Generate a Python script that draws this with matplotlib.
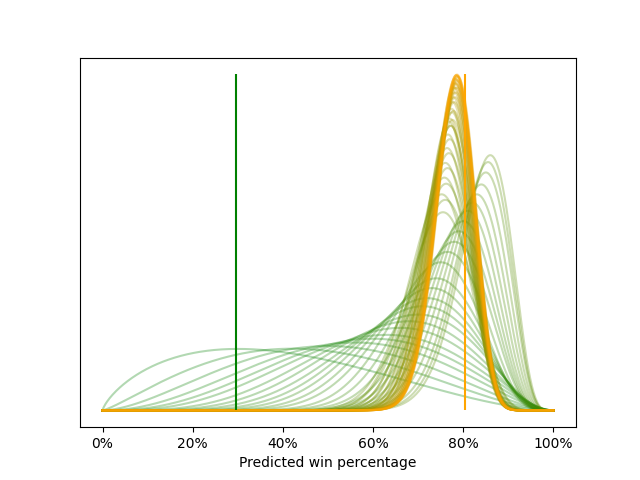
import math
import numpy as np
import matplotlib
matplotlib.use("Agg")
import matplotlib.pyplot as plt
from matplotlib.ticker import PercentFormatter

# peak (mode) of each predicted win-percentage curve, in game order
peak_pct = [
    0.30, 0.42, 0.50, 0.56, 0.60, 0.63, 0.66, 0.68, 0.70, 0.71, 0.72, 0.73, 0.74,
    0.750, 0.765, 0.780, 0.790, 0.800, 0.810, 0.820, 0.830, 0.840, 0.850, 0.855, 0.860,
    0.755, 0.760, 0.752, 0.762, 0.758, 0.765, 0.760, 0.768, 0.764, 0.770, 0.766, 0.772, 0.768, 0.775,
    0.772, 0.776, 0.770, 0.778, 0.774, 0.780, 0.776, 0.782, 0.778, 0.784, 0.780, 0.786, 0.782, 0.785,
    0.779, 0.787, 0.783, 0.786, 0.781, 0.788, 0.784, 0.786, 0.782, 0.787, 0.785, 0.784, 0.786, 0.785,
]
# concentration (a + b) of each curve
strength = [
    4.5, 5.0, 5.5, 6.0, 6.5, 7.0, 8.0, 9.0, 10.0, 11.5, 13.0, 15.0, 17.0,
    20.7, 22.7, 24.5, 26.7, 28.7, 30.7, 31.9, 33.0, 34.4, 36.2, 38.3, 39.3,
    36, 40, 43, 46, 49, 52, 55, 58, 61, 64, 67, 70, 73, 76,
    70, 72, 74, 76, 78, 80, 81, 82, 83, 84, 85, 86, 87, 88,
    88, 89, 89, 90, 90, 91, 91, 92, 92, 92, 93, 93, 93, 93,
]

first_line = 0.295
last_line = 0.803


def beta_pdf(x, a, b):
    logb = math.lgamma(a) + math.lgamma(b) - math.lgamma(a + b)
    with np.errstate(divide="ignore"):
        y = np.exp((a - 1) * np.log(x) + (b - 1) * np.log1p(-x) - logb)
    return np.nan_to_num(y)


x = np.linspace(0, 1, 501)
c0 = np.array(matplotlib.colors.to_rgb("green"))
c1 = np.array(matplotlib.colors.to_rgb("orange"))

fig, ax = plt.subplots(figsize=(6.4, 4.8), dpi=100)
n = len(peak_pct)
ymax = 0
for i, (m, k) in enumerate(zip(peak_pct, strength)):
    a = m * (k - 2) + 1
    b = (1 - m) * (k - 2) + 1
    y = beta_pdf(x, a, b)
    ymax = max(ymax, y.max())
    t = i / (n - 1)
    ax.plot(x, y, color=(1 - t) * c0 + t * c1, alpha=0.3, lw=1.5)

ax.vlines(first_line, 0, ymax, color="green")
ax.vlines(last_line, 0, ymax, color="orange")
ax.set_yticks([])
ax.xaxis.set_major_formatter(PercentFormatter(xmax=1, decimals=0))
ax.set_xlabel("Predicted win percentage")

plt.savefig("out.png", dpi=100)
